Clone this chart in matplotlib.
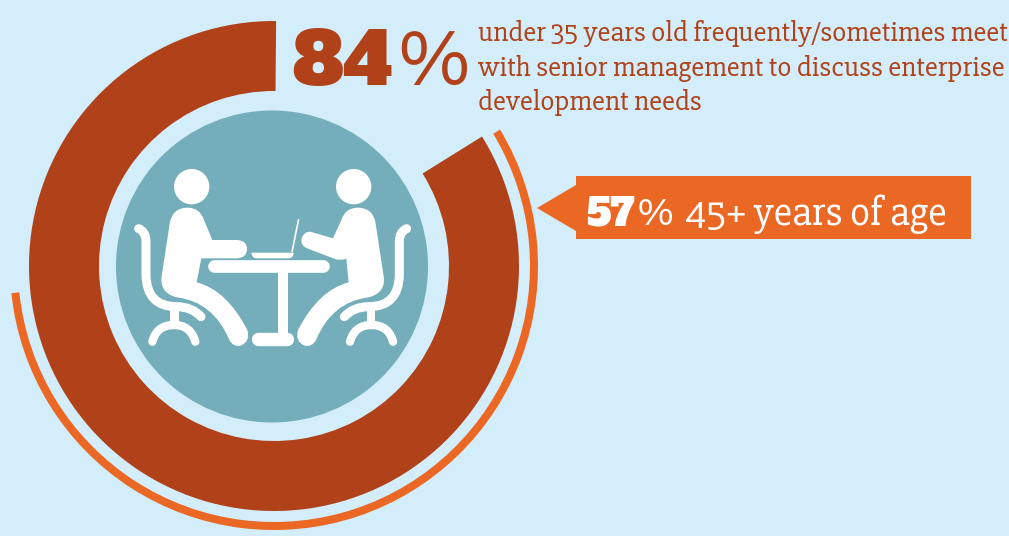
import matplotlib
matplotlib.use("Agg")
import matplotlib.pyplot as plt
from matplotlib.patches import Wedge, Circle, Polygon, PathPatch, Rectangle
from matplotlib.path import Path
from matplotlib.transforms import Affine2D

# ---- data ----
share_under_35 = 84
share_over_45 = 57
headline = "84%"
callout_value = "57%"
callout_label = "45+ years of age"
description = ["under 35 years old frequently/sometimes meet",
               "with senior management to discuss enterprise",
               "development needs"]

BG = "#D4EDFB"
DARK = "#B04119"
ORANGE = "#EB6724"
TEAL = "#74AEBB"
WHITE = "#FFFFFF"
SLAB = ["Slabo 27px", "Roboto", "DejaVu Sans"]
HEAVY = ["Alfa Slab One", "DejaVu Serif"]

fig = plt.figure(figsize=(10.09, 5.36), dpi=100, facecolor=BG)
ax = fig.add_axes([0, 0, 1, 1])
ax.set_xlim(0, 1009)
ax.set_ylim(536, 0)
ax.axis("off")

cx, cy = 274, 266
# y axis runs downward, so growing theta is clockwise on screen; 270 = 12 o'clock
end = 270.5
start = end - share_under_35 * 3.6
ax.add_patch(Wedge((cx, cy), 245, start, end, width=70, fc=DARK, ec="none"))
arc_start = start + 0.8
ax.add_patch(Wedge((cx, cy), 264, arc_start, arc_start + share_over_45 * 3.6, width=8, fc=ORANGE, ec="none"))
ax.add_patch(Circle((272, 266.5), 156, fc=TEAL, ec="none"))

# icon, drawn in a local 3x coordinate space
icon = Affine2D().scale(1 / 3).translate(120, 150) + ax.transData
mirror = Affine2D().scale(-1, 1).translate(916, 0) + icon
PT = 0.72 / 3  # local unit -> points


def curve(*segs):
    verts, codes = [], []
    for s in segs:
        if s[0] == "M":
            verts.append(s[1]); codes.append(Path.MOVETO)
        elif s[0] == "L":
            verts.append(s[1]); codes.append(Path.LINETO)
        elif s[0] == "Q":
            verts += [s[1], s[2]]; codes += [Path.CURVE3, Path.CURVE3]
    return Path(verts, codes)


def fill(path, tr):
    ax.add_patch(PathPatch(path, fc=WHITE, ec="none", transform=tr))


def stroke(path, w, tr):
    ax.add_patch(PathPatch(path, fc="none", ec=WHITE, lw=w * PT, capstyle="round", transform=tr))


def chair(tr):
    stroke(curve(("M", (56, 236)), ("Q", (78, 245), (78, 275)), ("L", (78, 375)),
                 ("Q", (80, 470), (170, 470)), ("Q", (215, 470), (243, 500))), 27, tr)
    ax.add_patch(Rectangle((150, 475), 26, 42, fc=WHITE, ec="none", transform=tr))
    stroke(curve(("M", (97, 575)), ("Q", (110, 525), (162, 525)), ("Q", (212, 525), (226, 575))), 25, tr)


left_body = curve(("M", (150, 215)), ("Q", (160, 173), (203, 173)), ("Q", (240, 173), (252, 210)),
                  ("L", (277, 270)), ("L", (352, 270)), ("Q", (381, 272), (381, 297)),
                  ("Q", (381, 323), (352, 325)), ("L", (244, 325)), ("L", (230, 397)),
                  ("Q", (320, 420), (382, 540)), ("Q", (392, 575), (362, 587)),
                  ("Q", (340, 592), (328, 570)), ("Q", (280, 455), (170, 442)),
                  ("Q", (122, 430), (124, 385)), ("L", (150, 215)))
right_body = curve(("M", (150, 215)), ("Q", (160, 173), (203, 173)), ("Q", (240, 173), (252, 210)),
                   ("L", (277, 265)), ("L", (345, 245)), ("Q", (368, 245), (372, 270)),
                   ("Q", (372, 288), (355, 295)), ("L", (268, 328)), ("Q", (250, 332), (237, 326)),
                   ("L", (230, 397)),
                   ("Q", (320, 420), (382, 540)), ("Q", (392, 575), (362, 587)),
                   ("Q", (340, 592), (328, 570)), ("Q", (280, 455), (170, 442)),
                   ("Q", (122, 430), (124, 385)), ("L", (150, 215)))

for tr, body in ((icon, left_body), (mirror, right_body)):
    ax.add_patch(Circle((215, 110), 53, fc=WHITE, ec="none", transform=tr))
    fill(body, tr)
    chair(tr)

# table and laptop
stroke(curve(("M", (282, 348)), ("L", (610, 348))), 38, icon)
ax.add_patch(Rectangle((475, 360), 28, 195, fc=WHITE, ec="none", transform=icon))
stroke(curve(("M", (414, 566)), ("L", (502, 566))), 40, icon)
fill(curve(("M", (394, 308)), ("L", (521, 308)), ("Q", (520, 325), (505, 325)), ("L", (410, 325)),
           ("Q", (396, 325), (394, 308))), icon)
ax.add_patch(PathPatch(curve(("M", (516, 306)), ("L", (536, 207))), fc="none", ec=WHITE, lw=5 * PT,
                       transform=icon))

# headline
ax.text(292, 85, headline[:2], family=HEAVY, size=52, color=DARK, va="baseline", ha="left")
ax.text(396, 85, headline[2], family=SLAB, size=56, color=DARK, va="baseline", ha="left")
for line, y in zip(description, (41, 76, 110)):
    ax.text(478, y, line, family=SLAB, size=20.9, color=DARK, va="baseline", ha="left")

# callout
ax.add_patch(Polygon([(537, 208), (576, 185), (576, 176), (971, 176), (971, 239), (576, 239), (576, 231)],
                     closed=True, fc=ORANGE, ec="none"))
ax.text(586, 225, callout_value[:2], family=HEAVY, size=27, color=WHITE, va="baseline")
ax.text(637, 225, callout_value[2], family=SLAB, size=28, color=WHITE, va="baseline")
ax.text(685, 225, callout_label, family=SLAB, size=29.8, color=WHITE, va="baseline")

fig.savefig("out.png", dpi=100, facecolor=BG)
